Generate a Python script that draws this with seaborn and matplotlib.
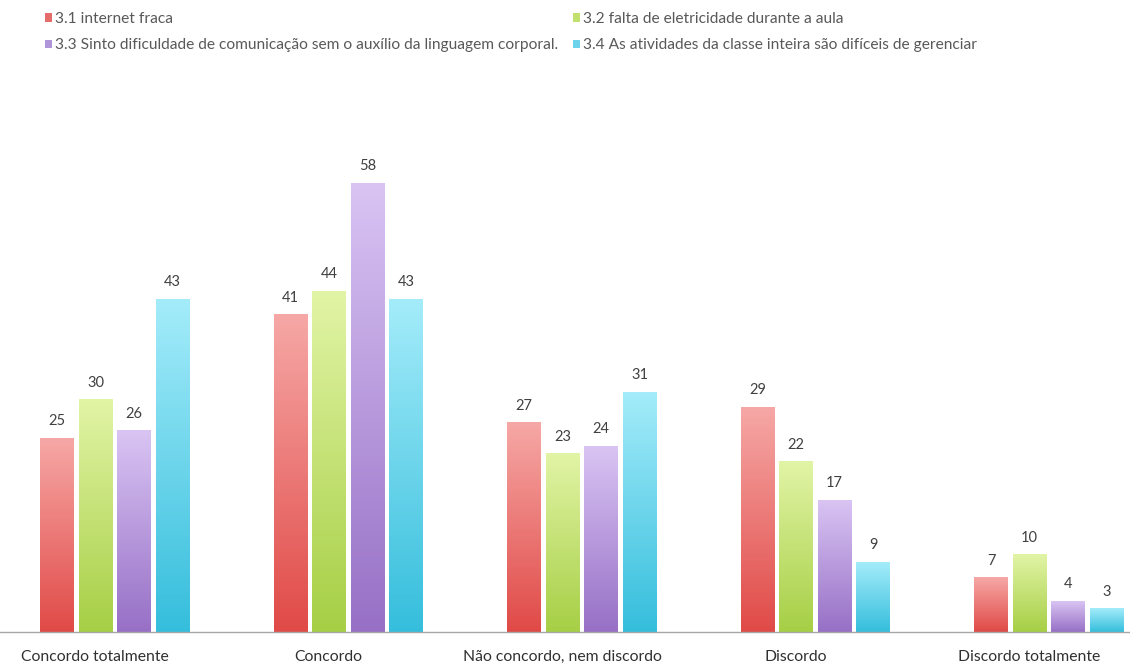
import numpy as np
import pandas as pd
import matplotlib
matplotlib.use("Agg")
import matplotlib.pyplot as plt
from matplotlib.colors import LinearSegmentedColormap
from matplotlib.patches import Patch
from matplotlib.transforms import ScaledTranslation
import seaborn as sns

categories = ["Concordo totalmente", "Concordo", "Não concordo, nem discordo",
              "Discordo", "Discordo totalmente"]
series = ["3.1 internet fraca",
          "3.2 falta de eletricidade durante a aula",
          "3.3 Sinto dificuldade de comunicação sem o auxílio da linguagem corporal.",
          "3.4 As atividades da classe inteira são difíceis de gerenciar"]
s31 = [25, 41, 27, 29, 7]
s32 = [30, 44, 23, 22, 10]
s33 = [26, 58, 24, 17, 4]
s34 = [43, 43, 31, 9, 3]

# top (light) / bottom (dark) colours for each series' gradient
tops = ["#f6a8a6", "#e2f4a6", "#d9c4f3", "#a4ecfa"]
bottoms = ["#e04a47", "#a6cf45", "#9770c6", "#35bedc"]
legend_cols = ["#e46c6a", "#c2e06e", "#b096d8", "#6dd3ea"]

values = [s31, s32, s33, s34]
df = pd.DataFrame({
    "categoria": np.repeat([categories], 4, axis=0).ravel(),
    "serie": np.repeat(series, len(categories)),
    "valor": np.concatenate(values),
})

sns.set_theme(style="white")
plt.rcParams["font.family"] = ["Lato", "DejaVu Sans"]

fig = plt.figure(figsize=(11.30, 6.63), dpi=100)
ax = fig.add_axes([0.0, 1 - 632 / 663, 1.0, (632 - 80) / 663])

sns.barplot(data=df, x="categoria", y="valor", hue="serie", order=categories,
            hue_order=series, palette=legend_cols, width=0.66, gap=0.12,
            legend=False, ax=ax)

# replace flat fills with vertical gradients
grad = np.linspace(0, 1, 256).reshape(-1, 1)
bars = [p for p in ax.patches]
n_cat = len(categories)
for i, p in enumerate(bars):
    s = i // n_cat
    x0, y0 = p.get_x(), p.get_y()
    w, h = p.get_width(), p.get_height()
    cmap = LinearSegmentedColormap.from_list("g", [bottoms[s], tops[s]])
    ax.imshow(grad, cmap=cmap, origin="lower", aspect="auto",
              extent=[x0, x0 + w, y0, y0 + h], zorder=2, interpolation="bicubic")
    p.set_visible(False)
    ax.text(x0 + w / 2, y0 + h + 1.3, f"{int(round(h))}", ha="center", va="bottom",
            fontsize=10.5, color="#404040")

ax.set_xlim(-0.4925, 4.347)
ax.set_ylim(0, (632 - 80) / 449 * 58)
ax.set_xlabel("")
ax.set_ylabel("")
ax.set_yticks([])
ax.set_xticks(range(n_cat))
ax.set_xticklabels(categories, fontsize=11.3, color="#303030")
ax.tick_params(axis="x", length=0, pad=13)
shift = ScaledTranslation(-0.20, 0, fig.dpi_scale_trans)
for lbl in ax.get_xticklabels():
    lbl.set_transform(lbl.get_transform() + shift)
for side in ["top", "right", "left"]:
    ax.spines[side].set_visible(False)
ax.spines["bottom"].set_color("#a6a6a6")
ax.spines["bottom"].set_linewidth(1.0)

# row-major order: 3.1 | 3.2 on top, 3.3 | 3.4 below
order = [0, 2, 1, 3]
handles = [Patch(facecolor=legend_cols[k], edgecolor="none") for k in order]
labels = [series[k] for k in order]
fig.legend(handles, labels, loc="upper left", bbox_to_anchor=(0.027, 1.003),
           ncol=2, frameon=False, fontsize=11.2, labelcolor="#595959",
           handlelength=0.45, handleheight=0.45, handletextpad=0.25,
           columnspacing=0.9, labelspacing=0.8)

fig.savefig("out.png", dpi=100)
